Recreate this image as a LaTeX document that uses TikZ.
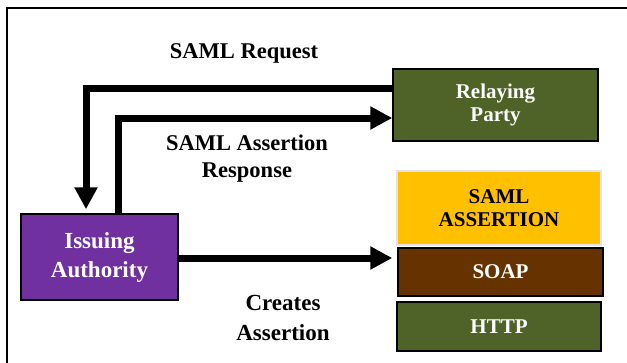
\documentclass[tikz,border=0pt]{standalone}
\usepackage{fontspec}
\setmainfont{Liberation Serif}
\usetikzlibrary{arrows.meta}
\definecolor{olive}{HTML}{4F6228}
\definecolor{purp}{HTML}{7030A0}
\definecolor{brown}{HTML}{663300}
\definecolor{gold}{HTML}{FFC000}
\definecolor{lgray}{HTML}{E4E4E4}
\begin{document}
\begin{tikzpicture}[x=1pt,y=-1pt,
  box/.style={draw=black, line width=1.5pt, inner sep=0pt, align=center,
    font=\bfseries\fontsize{21}{23.5}\selectfont, text=white},
  lbl/.style={anchor=base, align=center, inner sep=0pt, font=\bfseries\fontsize{22.5}{27}\selectfont},
  bigarrow/.style={line width=7pt, -{Triangle[width=22pt,length=22pt]}}]
\useasboundingbox (0,0) rectangle (627,362);
\fill[white] (0,0) rectangle (627,362);
\draw[line width=2pt] (7,363) -- (7,8) -- (628,8);

\node[box, fill=olive, minimum width=205pt, minimum height=72pt] (rp) at (495.5,105) {Relaying\\Party};
\node[box, fill=gold, draw=lgray, text=black, minimum width=204pt, minimum height=74pt] (saml) at (499,208) {SAML\\ASSERTION};
\node[box, fill=brown, minimum width=205pt, minimum height=48pt] (soap) at (500.5,272) {SOAP};
\node[box, fill=olive, minimum width=204pt, minimum height=49pt] (http) at (499,326.5) {HTTP};
\node[box, fill=purp, minimum width=157pt, minimum height=86pt, font=\bfseries\fontsize{23}{29}\selectfont] (ia) at (99.5,257) {Issuing\\Authority};

\node[lbl] (lreq) at (244,58) {SAML Request};
\node[lbl] (lresp) at (247,177) {SAML Assertion\\Response};
\node[lbl, font=\bfseries\fontsize{23}{30}\selectfont] (lcre) at (283,340) {Creates\\Assertion};

\draw[bigarrow, shorten >=4pt] ([yshift=17pt]rp.west) -| ([xshift=-13.5pt]ia.north);
\draw[bigarrow] ([xshift=18.5pt]ia.north) |- ([yshift=-13pt]rp.west);
\draw[bigarrow, shorten >=5pt] ([yshift=-1pt]ia.east) -- ([yshift=-1pt]ia.east -| soap.west);
\end{tikzpicture}
\end{document}
